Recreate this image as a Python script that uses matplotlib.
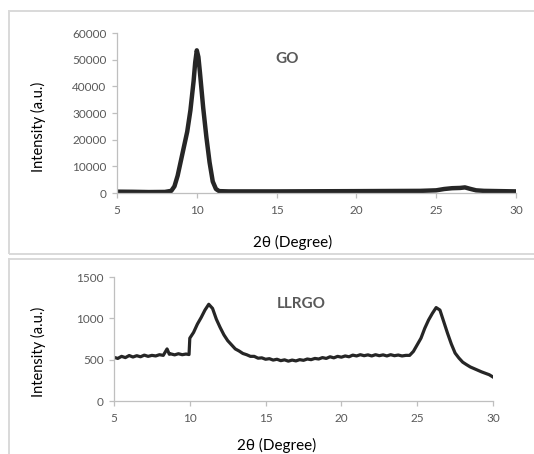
import matplotlib
matplotlib.use("Agg")
import matplotlib.pyplot as plt
from matplotlib.patches import Rectangle

plt.rcParams['font.family'] = ['Lato', 'DejaVu Sans']

# GO pattern
go_theta = [5, 6, 7, 8, 8.4, 8.6, 8.8, 9.0, 9.2, 9.4, 9.6, 9.8, 9.9, 10.0, 10.1,
            10.2, 10.4, 10.6, 10.8, 11.0, 11.2, 11.4, 12, 15, 20, 24, 25, 25.5,
            26, 26.5, 26.8, 27.1, 27.5, 28, 29, 30]
go_int = [500, 450, 350, 400, 800, 2500, 6500, 12000, 17500, 23000, 31000, 42000,
          49000, 53500, 51000, 45000, 32000, 21000, 11500, 4300, 1500, 700, 600,
          600, 700, 800, 1000, 1500, 1800, 1900, 2100, 1600, 1000, 800, 700, 600]

# LLRGO pattern
llrgo_theta = [5.0, 5.25, 5.5, 5.75, 6.0, 6.25, 6.5, 6.75, 7.0, 7.25, 7.5, 7.75,
               8.0, 8.25, 8.5, 8.65, 8.75, 9.0, 9.25, 9.5, 9.75, 9.95, 10.0,
               10.25, 10.5, 10.75, 11.0, 11.25, 11.5, 11.75, 12.0, 12.25, 12.5,
               12.75, 13.0, 13.25, 13.5, 13.75, 14.0, 14.25, 14.5, 14.75, 15.0,
               15.25, 15.5, 15.75, 16.0, 16.25, 16.5, 16.75, 17.0, 17.25, 17.5,
               17.75, 18.0, 18.25, 18.5, 18.75, 19.0, 19.25, 19.5, 19.75, 20.0,
               20.25, 20.5, 20.75, 21.0, 21.25, 21.5, 21.75, 22.0, 22.25, 22.5,
               22.75, 23.0, 23.25, 23.5, 23.75, 24.0, 24.25, 24.5, 24.75, 25.0,
               25.25, 25.5, 25.75, 26.0, 26.25, 26.5, 26.75, 27.0, 27.25, 27.5,
               27.75, 28.0, 28.25, 28.5, 28.75, 29.0, 29.25, 29.5, 29.75, 30.0]
llrgo_int = [528, 515, 540, 525, 550, 532, 548, 535, 555, 540, 552, 545,
             560, 552, 630, 565, 570, 558, 572, 560, 568, 562, 760,
             830, 930, 1010, 1100, 1170, 1120, 990, 890, 800, 730,
             680, 630, 605, 575, 560, 540, 540, 518, 522, 505,
             512, 495, 505, 488, 498, 482, 495, 485, 500, 492,
             508, 500, 515, 508, 525, 515, 535, 522, 540, 530,
             545, 535, 555, 545, 560, 548, 558, 545, 560, 548,
             558, 545, 560, 548, 556, 545, 552, 552, 600, 680,
             760, 880, 980, 1060, 1130, 1100, 960, 820, 690, 580,
             520, 470, 440, 412, 392, 372, 352, 335, 318, 290]

W, H = 534, 454
fig = plt.figure(figsize=(W / 100, H / 100), dpi=100)

def fx(px):
    return px / W

def fy(py):
    return 1 - py / H

# panel frames
for top, bot in [(11, 254), (259, 470)]:
    fig.patches.append(Rectangle((fx(9), fy(bot)), fx(540) - fx(9), fy(top) - fy(bot),
                                 transform=fig.transFigure, fill=False,
                                 edgecolor='#d9d9d9', lw=1.4))

ax1 = fig.add_axes([fx(117), fy(193), fx(516) - fx(117), fy(33) - fy(193)])
ax2 = fig.add_axes([fx(114), fy(401), fx(493) - fx(114), fy(277) - fy(401)])

ax1.plot(go_theta, go_int, color='#262626', lw=3.2, solid_joinstyle='round')
ax1.set_ylim(0, 60000)
ax1.set_yticks(range(0, 60001, 10000))
ax2.plot(llrgo_theta, llrgo_int, color='#262626', lw=2.3, solid_joinstyle='round')
ax2.set_ylim(0, 1500)
ax2.set_yticks([0, 500, 1000, 1500])

for ax in (ax1, ax2):
    ax.set_xlim(5, 30)
    ax.set_xticks([5, 10, 15, 20, 25, 30])
    for s in ('top', 'right'):
        ax.spines[s].set_visible(False)
    for s in ('left', 'bottom'):
        ax.spines[s].set_color('#bfbfbf')
        ax.spines[s].set_linewidth(0.9)
    ax.tick_params(colors='#bfbfbf', labelcolor='#595959', labelsize=8.5,
                   length=3.5, width=0.9)
    ax.tick_params(axis='x', pad=5)
    ax.tick_params(axis='y', pad=4)

fig.text(fx(287), fy(59), 'GO', fontsize=11, fontweight='bold', color='#595959',
         ha='center', va='center')
fig.text(fx(301), fy(304), 'LLRGO', fontsize=11, fontweight='bold', color='#595959',
         ha='center', va='center')

fig.text(fx(38), fy(127), 'Intensity (a.u.)', fontsize=10.5, rotation=90,
         ha='center', va='center')
fig.text(fx(38), fy(352), 'Intensity (a.u.)', fontsize=10.5, rotation=90,
         ha='center', va='center')
fig.text(fx(293), fy(242), '2θ (Degree)', fontsize=11, ha='center', va='center')
fig.text(fx(277), fy(445), '2θ (Degree)', fontsize=11, ha='center', va='center')

fig.savefig('out.png', dpi=100)
